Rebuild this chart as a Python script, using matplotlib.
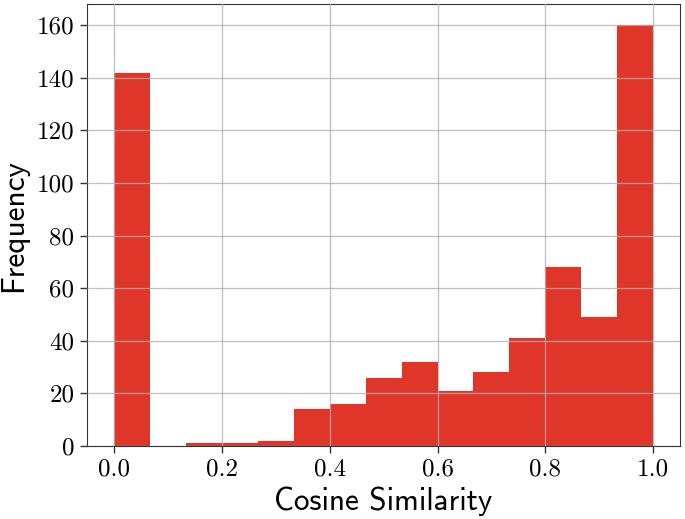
import numpy as np
import matplotlib.pyplot as plt

# Histogram counts (15 equal bins from 0 to 1)
bin_edges = np.linspace(0.0, 1.0, 16)
counts = [142, 0, 1, 1, 2, 14, 16, 26, 32, 21, 28, 41, 68, 49, 160]
x_ticks = [0.0, 0.2, 0.4, 0.6, 0.8, 1.0]
y_ticks = [0, 20, 40, 60, 80, 100, 120, 140, 160]

fig = plt.figure(figsize=(6.85, 5.19), dpi=100)
ax = fig.add_axes([0.127, 0.1407, 0.866, 0.8513])

ax.hist(bin_edges[:-1], bins=bin_edges, weights=counts, color="#e0362a", zorder=1)
ax.grid(True, color="#b0b0b0", linewidth=0.9, alpha=0.8, zorder=2)
ax.set_axisbelow(False)

ax.set_xticks(x_ticks)
ax.set_yticks(y_ticks)
ax.set_xticklabels([f"{t:.1f}" for t in x_ticks], fontfamily="cmr10", fontsize=18)
ax.set_yticklabels([str(t) for t in y_ticks], fontfamily="cmr10", fontsize=18)
ax.tick_params(direction="out", length=5, width=1, color="#333333", pad=4)

ax.set_xlabel("Cosine Similarity", fontfamily="cmss10", fontsize=22.5, labelpad=4)
ax.set_ylabel("Frequency", fontfamily="cmss10", fontsize=22.5, labelpad=6)

for s in ax.spines.values():
    s.set_color("#333333")

fig.savefig("out.png", dpi=100)
